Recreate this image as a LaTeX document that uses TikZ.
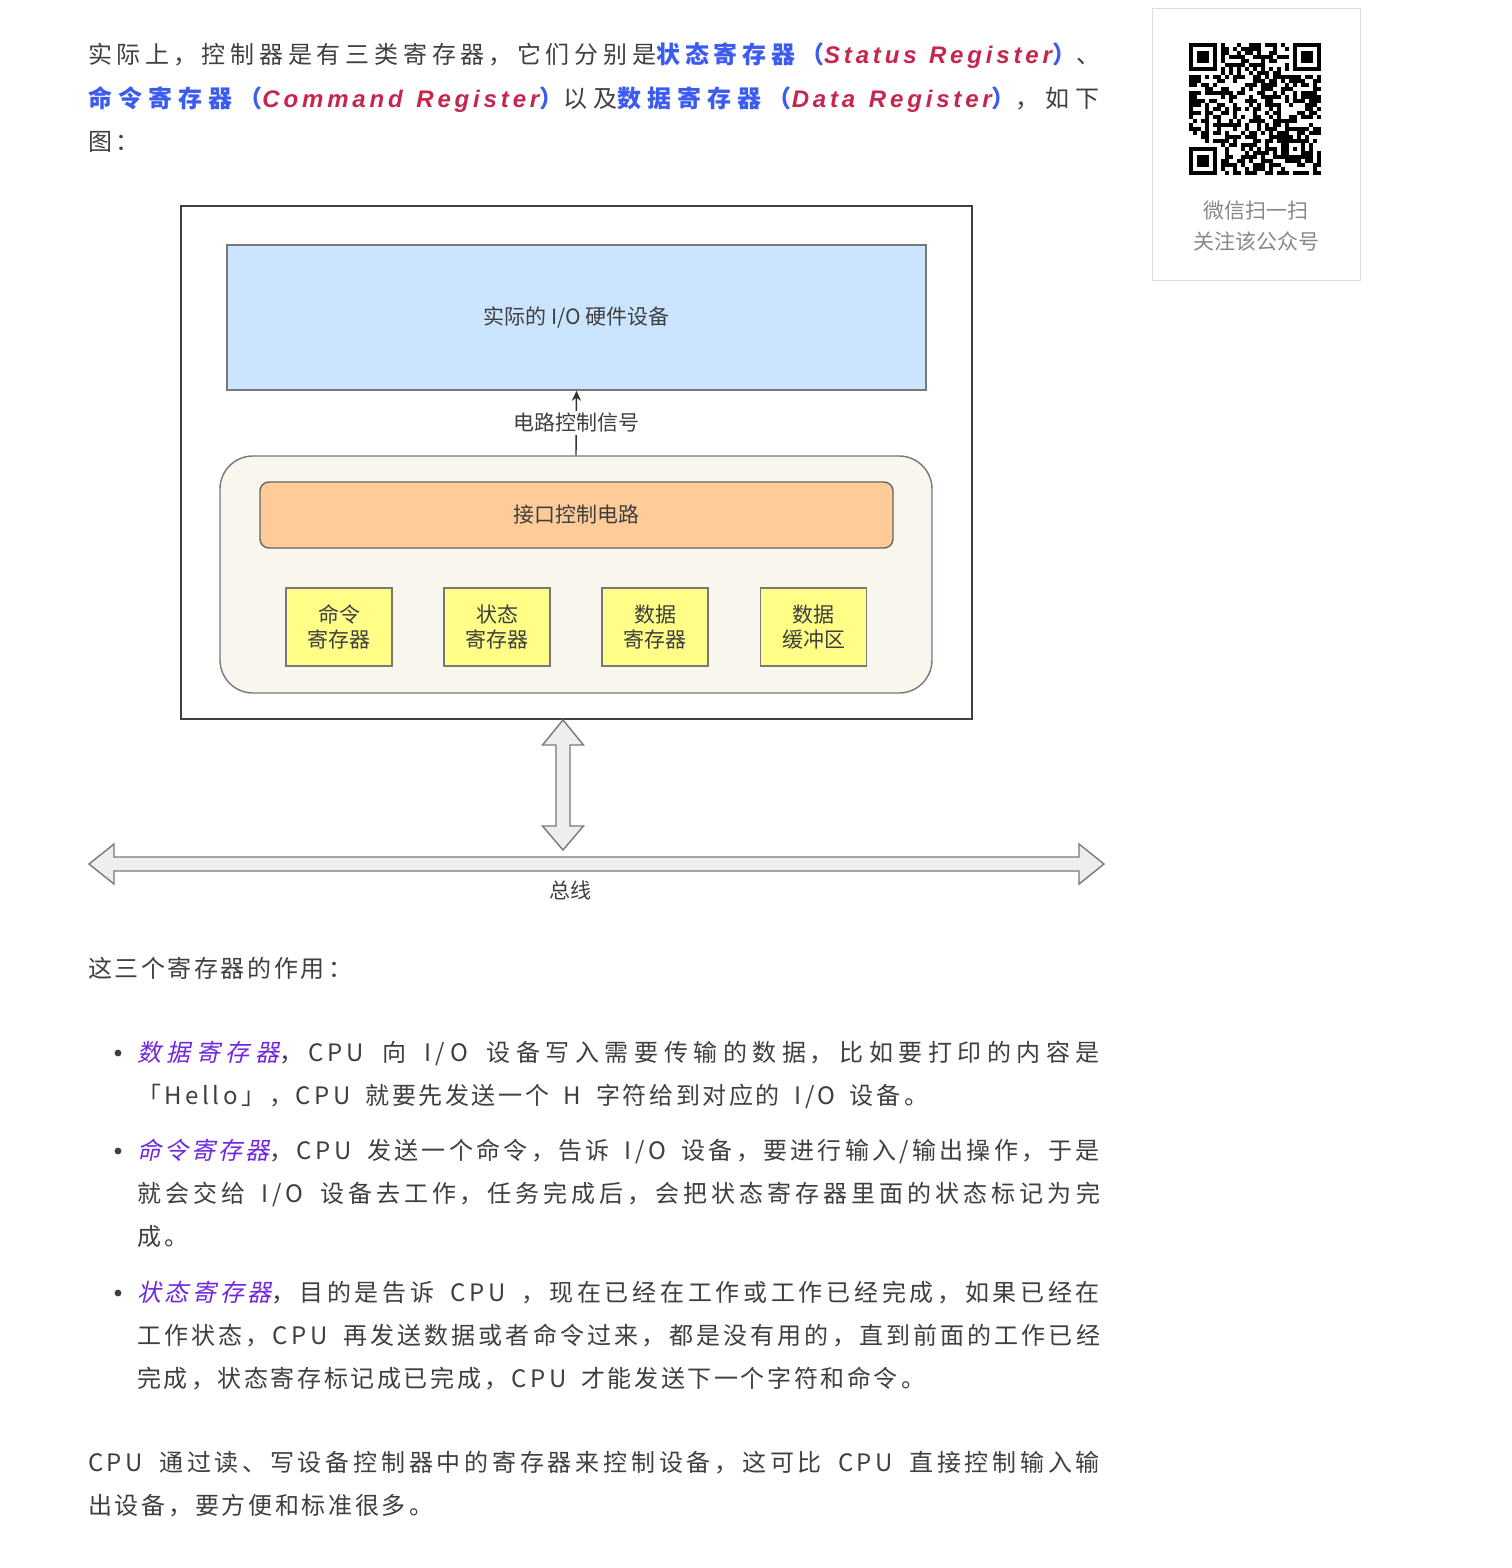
\documentclass[tikz,border=0pt]{standalone}
\usepackage{fontspec}
\usetikzlibrary{arrows.meta}
\setmainfont{Noto Sans CJK SC}
\newfontfamily\bodyfont{Noto Sans CJK SC}[LetterSpace=15,WordSpace=1.65]
\newfontfamily\slantfont{Noto Sans CJK SC}[LetterSpace=15,WordSpace=1.65,FakeSlant=0.22]
\newfontfamily\latinbi{Liberation Sans}[LetterSpace=16]
\newfontfamily\diagfont{Noto Sans CJK SC}
\tolerance=9999
\hbadness=10000

% spaced, stretchable gaps between Chinese characters for the justified body text
\newcommand\zhjust{\XeTeXlinebreaklocale "zh"\XeTeXlinebreakskip=1.3pt plus 3pt minus 0.4pt\relax}

\definecolor{bodytxt}{HTML}{3F3F3F}
\definecolor{kwblue}{HTML}{3B5BF2}
\definecolor{kwred}{HTML}{C7254E}
\definecolor{kwpurple}{HTML}{7027E0}
\definecolor{ioblue}{HTML}{CCE5FF}
\definecolor{ctlfill}{HTML}{F9F7ED}
\definecolor{ifcorange}{HTML}{FFCC99}
\definecolor{regyellow}{HTML}{FFFF88}
\definecolor{edgegray}{HTML}{787878}
\definecolor{busfill}{HTML}{EEEEEE}
\definecolor{qrgray}{HTML}{DDDDDD}
\definecolor{qrtxt}{HTML}{888888}

\newcommand\kw[1]{{\color{kwblue}\bfseries #1}}
\newcommand\en[1]{{\color{kwred}\latinbi\bfseries\itshape #1}}
\newcommand\regname[1]{{\color{kwpurple}\slantfont #1}}

\begin{document}
\begin{tikzpicture}[x=0.5pt,y=-0.5pt,
  para/.style={anchor=base west, inner sep=0, outer sep=0, text width=#1, align=justify,
    text=bodytxt, font=\bodyfont\fontsize{12pt}{21.6pt}\selectfont},
  diagtext/.style={font=\diagfont\fontsize{10.5pt}{12.5pt}\selectfont, text=bodytxt},
  iobox/.style={draw=edgegray, fill=ioblue, line width=0.7pt, inner sep=0,
    minimum width=349.5pt, minimum height=72.5pt, diagtext},
  ctlbox/.style={draw=edgegray, fill=ctlfill, line width=0.7pt, inner sep=0,
    rounded corners=16.5pt, minimum width=356pt, minimum height=118.5pt},
  ifcbox/.style={draw=edgegray!85!black, fill=ifcorange, line width=0.7pt, inner sep=0,
    rounded corners=4.5pt, minimum width=316.5pt, minimum height=33pt, diagtext},
  regbox/.style={draw=edgegray, fill=regyellow, line width=0.7pt, inner sep=0,
    minimum width=53pt, minimum height=39pt, align=center, diagtext},
  blockarrow/.style={draw=edgegray, fill=busfill, line width=0.7pt, line join=miter},
  qrlabel/.style={font=\diagfont\fontsize{10.5pt}{12.5pt}\selectfont, text=qrtxt, inner sep=0},
]
\useasboundingbox (0,0) rectangle (1511,1568);
\fill[white] (0,0) rectangle (1511,1568);

% ---------- opening paragraph ----------
\node[para=506pt] (intro) at (88,64) {\zhjust
实际上，控制器是有三类寄存器，它们分别是\kw{状态寄存器（}\en{Status Register}\kw{）}、\linebreak
\kw{命令寄存器（}\en{Command Register}\kw{）}以及\kw{数据寄存器（}\en{Data Register}\kw{）}，如下\linebreak
图：};

% ---------- QR card ----------
\node[draw=qrgray, line width=0.5pt, minimum width=104pt, minimum height=135.5pt, inner sep=0]
  (qrcard) at (1256,144.5) {};
\begin{scope}[shift={(1189,43)}]
  % finder patterns
  \foreach \fx/\fy in {0/0,26/0,0/26}{
    \fill[black] (4*\fx,4*\fy) rectangle ++(28,28);
    \fill[white] (4*\fx+4,4*\fy+4) rectangle ++(20,20);
    \fill[black] (4*\fx+8,4*\fy+8) rectangle ++(12,12);
  }
  % alignment pattern
  \fill[black] (96,96) rectangle ++(20,20);
  \fill[white] (100,100) rectangle ++(12,12);
  \fill[black] (104,104) rectangle ++(4,4);
  % timing patterns
  \foreach \k in {8,10,...,24}{
    \fill[black] (4*\k,24) rectangle ++(4,4);
    \fill[black] (24,4*\k) rectangle ++(4,4);
  }
  % data modules
  \pgfmathsetseed{20}
  \foreach \i in {0,...,32}{
    \foreach \j in {0,...,32}{
      \pgfmathtruncatemacro\res{max((\i<8)*(\j<8),(\i>24)*(\j<8),(\i<8)*(\j>24),(\i>23)*(\i<29)*(\j>23)*(\j<29),\i==6,\j==6)}
      \pgfmathtruncatemacro\bit{random(0,99)<56}
      \ifnum\res=0 \ifnum\bit=1 \fill[black] (4*\i,4*\j) rectangle ++(4.15,4.15); \fi\fi
    }
  }
\end{scope}
\node[qrlabel] (scan) at (1256,211) {微信扫一扫};
\node[qrlabel] (follow) at (1256,241) {关注该公众号};

% ---------- controller diagram ----------
\node[draw=black!75, line width=0.7pt, fill=white, minimum width=395.5pt, minimum height=256.5pt, inner sep=0]
  (ctrl) at (576.5,462.5) {};
\node[iobox] (io) at (576.5,317.5) {实际的 I/O 硬件设备};
\node[ctlbox] (ctl) at (576,574.5) {};
\node[ifcbox] (ifc) at (576.5,515) {接口控制电路};
\node[regbox] (rcmd) at (339,627) {命令\\寄存器};
\node[regbox] (rstat) at (497,627) {状态\\寄存器};
\node[regbox] (rdata) at (655,627) {数据\\寄存器};
\node[regbox] (rbuf) at (813.5,627) {数据\\缓冲区};
\draw[black!80, line width=0.7pt, -{Stealth[length=5pt,width=4.5pt,inset=1.5pt]}]
  (ctl.north) -- (io.south) node[midway, fill=white, inner sep=1pt, diagtext] (sig) {电路控制信号};

% ---------- bus ----------
\coordinate (vtip) at (563,720);
\coordinate (hmid) at (596.5,864);
\draw[blockarrow, shift={(vtip)}]
  (0,0) -- (20.5,25) -- (7,25) -- (7,106) -- (20.5,106) -- (0,130) -- (-20.5,106) -- (-7,106)
  -- (-7,25) -- (-20.5,25) -- cycle;
\draw[blockarrow, shift={(hmid)}]
  (-507.5,0) -- (-482.5,-20) -- (-482.5,-7) -- (482.5,-7) -- (482.5,-20) -- (507.5,0)
  -- (482.5,20) -- (482.5,7) -- (-482.5,7) -- (-482.5,20) -- cycle;
\node[diagtext] (bus) at (570,890) {总线};

% ---------- register roles ----------
\node[para=506pt] (roles) at (88,977) {\zhjust 这三个寄存器的作用：};

\fill[bodytxt] (118,1053) circle (1.7pt);
\node[para=481.5pt] (itemdata) at (137,1061) {\zhjust
\regname{数据寄存器}，CPU 向 I/O 设备写入需要传输的数据，比如要打印的内容是\linebreak
「Hello」，CPU 就要先发送一个 H 字符给到对应的 I/O 设备。};

\fill[bodytxt] (118,1151) circle (1.7pt);
\node[para=481.5pt] (itemcmd) at (137,1159) {\zhjust
\regname{命令寄存器}，CPU 发送一个命令，告诉 I/O 设备，要进行输入/输出操作，于是\linebreak
就会交给 I/O 设备去工作，任务完成后，会把状态寄存器里面的状态标记为完\linebreak
成。};

\fill[bodytxt] (118,1293) circle (1.7pt);
\node[para=481.5pt] (itemstat) at (137,1301) {\zhjust
\regname{状态寄存器}，目的是告诉 CPU ，现在已经在工作或工作已经完成，如果已经在\linebreak
工作状态，CPU 再发送数据或者命令过来，都是没有用的，直到前面的工作已经\linebreak
完成，状态寄存标记成已完成，CPU 才能发送下一个字符和命令。};

\node[para=506pt] (closing) at (88,1471) {\zhjust
CPU 通过读、写设备控制器中的寄存器来控制设备，这可比 CPU 直接控制输入输\linebreak
出设备，要方便和标准很多。};
\end{tikzpicture}
\end{document}
